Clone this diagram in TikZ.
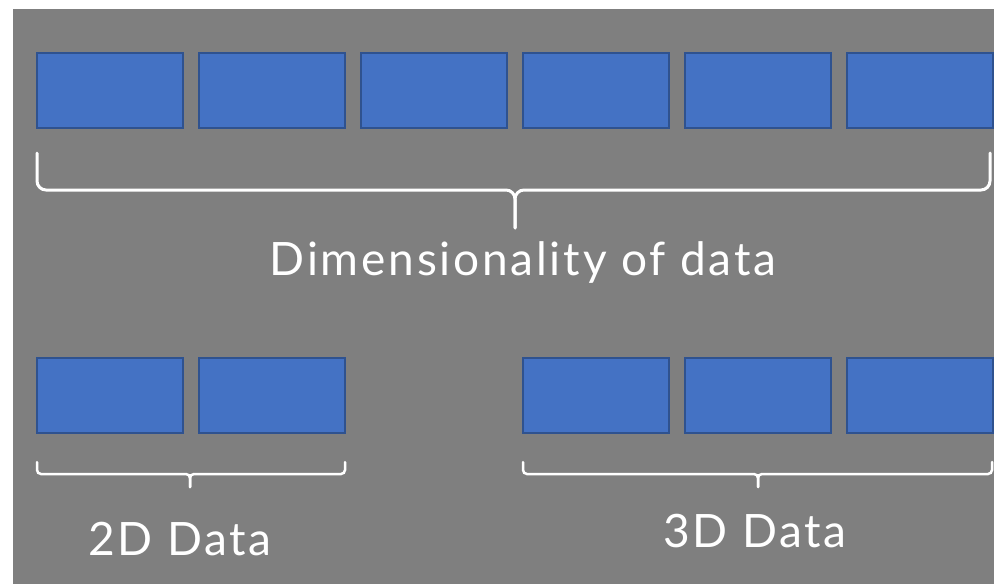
\documentclass[tikz,border=0pt]{standalone}
\usepackage{fontspec}
\setmainfont{Lato}[LetterSpace=6]
\usepackage{xcolor}
\definecolor{slidegray}{HTML}{7F7F7F}
\definecolor{cellblue}{HTML}{4472C4}
\definecolor{cellline}{HTML}{2F528F}
\tikzset{
  cell/.style={draw=cellline, fill=cellblue, line width=2pt,
    minimum width=146pt, minimum height=75pt, inner sep=0pt},
  bracket/.style={draw=white, line width=3pt, line cap=round, rounded corners=9pt},
  smallbracket/.style={draw=white, line width=2.5pt, line cap=round, rounded corners=4pt},
  caption/.style={text=white, anchor=base, inner sep=0pt,
    font=\fontsize{46}{54}\selectfont},
}

\begin{document}
\begin{tikzpicture}[x=1pt,y=-1pt]
\useasboundingbox (0,0) rectangle (994,584);
% Slide background
\fill[slidegray] (13,9) rectangle (994,584);

% Define the cells of the full row
\node[cell] (A1) at (110,90) {};
\node[cell] (A2) at (272,90) {};
\node[cell] (A3) at (434,90) {};
\node[cell] (A4) at (596,90) {};
\node[cell] (A5) at (758,90) {};
\node[cell] (A6) at (920,90) {};

% Define the cells of the split row
\node[cell] (B1) at (110,395) {};
\node[cell] (B2) at (272,395) {};
\node[cell] (C1) at (596,395) {};
\node[cell] (C2) at (758,395) {};
\node[cell] (C3) at (920,395) {};

% Brace under the full row
\coordinate (allL) at (37,153);
\coordinate (allR) at (990,153);
\coordinate (allM) at (515,190);
\coordinate (allT) at (515,228);
\draw[bracket] (allL) |- (allM) -- (allT);
\draw[bracket] (allR) |- (allM) -- (allT);
\node[caption] (dim) at (523,275) {Dimensionality of data};

% Brace under the 2D cells
\coordinate (twoL) at (37,462);
\coordinate (twoR) at (345,462);
\coordinate (twoM) at (190,474);
\coordinate (twoT) at (190,487);
\draw[smallbracket] (twoL) |- (twoM) -- (twoT);
\draw[smallbracket] (twoR) |- (twoM) -- (twoT);
\node[caption] (two) at (180,555) {2D Data};

% Brace under the 3D cells
\coordinate (threeL) at (523,462);
\coordinate (threeR) at (992,462);
\coordinate (threeM) at (758,474);
\coordinate (threeT) at (758,487);
\draw[smallbracket] (threeL) |- (threeM) -- (threeT);
\draw[smallbracket] (threeR) |- (threeM) -- (threeT);
\node[caption] (three) at (755,547) {3D Data};
\end{tikzpicture}
\end{document}
